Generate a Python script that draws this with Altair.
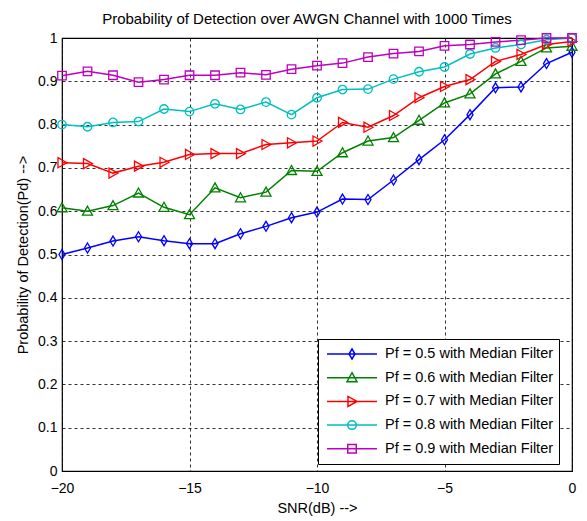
import altair as alt
import pandas as pd

# ---- data ----
snr = list(range(-20, 1))
series_names = [
    "Pf = 0.5 with Median Filter",
    "Pf = 0.6 with Median Filter",
    "Pf = 0.7 with Median Filter",
    "Pf = 0.8 with Median Filter",
    "Pf = 0.9 with Median Filter",
]
pf05 = [0.500, 0.515, 0.531, 0.541, 0.532, 0.525, 0.525, 0.548, 0.565, 0.585, 0.598,
        0.628, 0.627, 0.672, 0.719, 0.765, 0.823, 0.885, 0.887, 0.941, 0.967]
pf06 = [0.608, 0.600, 0.613, 0.642, 0.609, 0.592, 0.654, 0.631, 0.644, 0.694, 0.692,
        0.735, 0.762, 0.770, 0.810, 0.850, 0.871, 0.917, 0.946, 0.977, 0.981]
pf07 = [0.712, 0.710, 0.688, 0.704, 0.713, 0.731, 0.733, 0.733, 0.754, 0.758, 0.762,
        0.805, 0.794, 0.821, 0.862, 0.888, 0.904, 0.946, 0.962, 0.985, 0.992]
pf08 = [0.800, 0.795, 0.805, 0.807, 0.836, 0.830, 0.848, 0.835, 0.852, 0.823, 0.862,
        0.881, 0.882, 0.905, 0.922, 0.933, 0.963, 0.977, 0.985, 0.996, 1.000]
pf09 = [0.913, 0.923, 0.914, 0.898, 0.904, 0.914, 0.914, 0.920, 0.915, 0.928, 0.936,
        0.942, 0.956, 0.964, 0.969, 0.982, 0.985, 0.991, 0.995, 1.000, 1.000]
colors = ["#0000FF", "#008000", "#FF0000", "#00BFBF", "#BF00BF"]
x_ticks = [-20, -15, -10, -5, 0]
y_ticks = [0, 0.1, 0.2, 0.3, 0.4, 0.5, 0.6, 0.7, 0.8, 0.9, 1]

# marker outlines (unit box -1..1)
marker_paths = [
    "M0,-1L0.6,0L0,1L-0.6,0Z",                     # diamond
    "M0,-1L1,0.8L-1,0.8Z",                          # triangle up
    "M1,0L-0.8,-1L-0.8,1Z",                         # triangle right
    "M0.85,0A0.85,0.85,0,1,1,-0.85,0A0.85,0.85,0,1,1,0.85,0Z",  # circle
    "M-0.85,-0.85H0.85V0.85H-0.85Z",                # square
]
# legend symbols: line segment with marker in the middle
legend_paths = [
    "M-1,0L1,0M0,-0.2L0.12,0L0,0.2L-0.12,0Z",
    "M-1,0L1,0M0,-0.2L0.2,0.16L-0.2,0.16Z",
    "M-1,0L1,0M0.2,0L-0.16,-0.2L-0.16,0.2Z",
    "M-1,0L1,0M0.17,0A0.17,0.17,0,1,1,-0.17,0A0.17,0.17,0,1,1,0.17,0Z",
    "M-1,0L1,0M-0.17,-0.17H0.17V0.17H-0.17Z",
]

rows = []
for name, vals in zip(series_names, [pf05, pf06, pf07, pf08, pf09]):
    for s, v in zip(snr, vals):
        rows.append({"snr": s, "pd": v, "series": name})
df = pd.DataFrame(rows)

FONT = "Liberation Sans"

x_enc = alt.X("snr:Q", scale=alt.Scale(domain=[-20, 0], nice=False, zero=False),
              axis=alt.Axis(values=x_ticks, format="d", title="SNR(dB) -->",
                            ticks=False, domain=False, grid=True,
                            labelPadding=10, titlePadding=6, labelFlush=False))
y_enc = alt.Y("pd:Q", scale=alt.Scale(domain=[0, 1], nice=False),
              axis=alt.Axis(values=y_ticks, format=".1~f",
                            title="Probability of Detection(Pd) -->",
                            ticks=False, domain=False, grid=True,
                            labelPadding=5, titlePadding=7, labelFlush=False))

color_scale = alt.Scale(domain=series_names, range=colors)

base = alt.Chart(df)

lines = base.mark_line(strokeWidth=1.5).encode(
    x=x_enc, y=y_enc,
    color=alt.Color("series:N", scale=color_scale, legend=None),
)

points = base.mark_point(filled=False, size=100, strokeWidth=1.3, opacity=1).encode(
    x=x_enc, y=y_enc,
    color=alt.Color("series:N", scale=color_scale, legend=None),
    shape=alt.Shape("series:N", scale=alt.Scale(domain=series_names, range=marker_paths),
                    legend=None),
)

leg = alt.Legend(
    title=None, orient="none", legendX=256, legendY=301,
    padding=5, symbolOffset=3, labelOffset=7, clipHeight=20, rowPadding=3.7,
    strokeColor="black", fillColor="white", symbolSize=2500, symbolStrokeWidth=1.5,
    labelFont=FONT, labelFontSize=14.5, labelColor="black", labelLimit=400,
)

legend_layer = base.mark_point(filled=False, opacity=1).transform_filter("false").encode(
    x=x_enc, y=y_enc,
    shape=alt.Shape("series:N", scale=alt.Scale(domain=series_names, range=legend_paths),
                    legend=leg),
    stroke=alt.Stroke("series:N", scale=color_scale, legend=leg),
)

chart = alt.layer(lines, points, legend_layer).resolve_scale(
    shape="independent", stroke="independent"
).properties(
    width=510, height=433,
    background="white",
    title=alt.TitleParams("Probability of Detection over AWGN Channel with 1000 Times",
                          font=FONT, fontSize=15, fontWeight="normal", color="black",
                          anchor="middle", offset=4, dx=-10),
    autosize=alt.AutoSizeParams(type="none"),
    padding={"left": 62, "top": 38, "right": 15, "bottom": 50},
).configure_view(
    stroke="black", strokeWidth=1.2
).configure_axis(
    labelFont=FONT, labelFontSize=14, labelColor="black",
    titleFont=FONT, titleFontSize=14.5, titleFontWeight="normal", titleColor="black",
    gridColor="black", gridDash=[3, 3], gridOpacity=0.8, gridWidth=1,
)

chart.save("out.html", embed_options={"renderer": "svg", "actions": False})
